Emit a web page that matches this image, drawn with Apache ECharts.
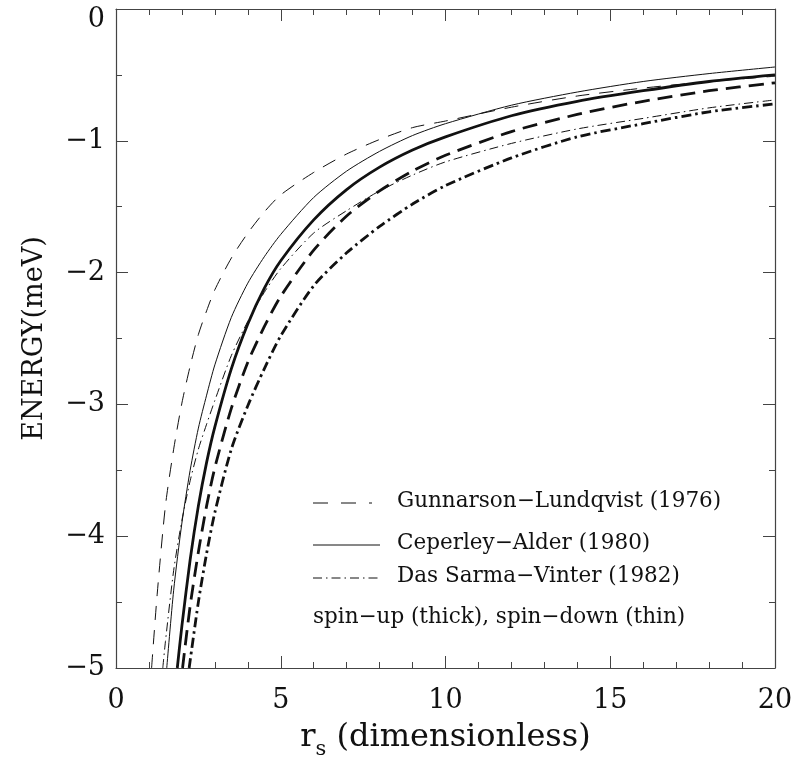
<!DOCTYPE html>
<html><head><meta charset="utf-8">
<script src="https://cdn.jsdelivr.net/npm/echarts@6/dist/echarts.min.js"></script>
<style>html,body{margin:0;padding:0;background:#fff}#c{width:797px;height:760px}</style>
</head><body><div id="c"></div>
<script>
// Gunnarson-Lundqvist (1976)
const rGLup = [2.02, 2.25, 2.5, 2.75, 3, 3.5, 4, 4.5, 5, 6, 7, 8, 9, 10, 12, 14, 16, 18, 20];
const eGLup = [-5.0, -4.53, -4.12, -3.77, -3.48, -3.03, -2.68, -2.41, -2.18, -1.83, -1.57, -1.38, -1.23, -1.11, -0.93, -0.80, -0.70, -0.62, -0.56];
const rGLdn = [1.08, 1.25, 1.5, 1.75, 2, 2.25, 2.5, 2.75, 3, 3.5, 4, 4.5, 5, 6, 7, 8, 9, 10, 12, 14, 16, 18, 20];
const eGLdn = [-5.0, -4.44, -3.77, -3.34, -2.99, -2.71, -2.47, -2.29, -2.13, -1.89, -1.70, -1.54, -1.41, -1.24, -1.10, -0.99, -0.90, -0.85, -0.745, -0.66, -0.60, -0.55, -0.51];
// Ceperley-Alder (1980)
const rCAup = [1.86, 2, 2.25, 2.5, 2.75, 3, 3.5, 4, 4.5, 5, 6, 7, 8, 9, 10, 12, 14, 16, 18, 20];
const eCAup = [-5.0, -4.68, -4.18, -3.77, -3.44, -3.17, -2.73, -2.39, -2.12, -1.91, -1.60, -1.37, -1.20, -1.07, -0.97, -0.81, -0.70, -0.62, -0.55, -0.50];
const rCAdn = [1.54, 1.75, 2, 2.25, 2.5, 2.75, 3, 3.5, 4, 4.5, 5, 6, 7, 8, 9, 10, 12, 14, 16, 18, 20];
const eCAdn = [-5.0, -4.41, -3.90, -3.50, -3.18, -2.93, -2.70, -2.34, -2.08, -1.88, -1.71, -1.43, -1.23, -1.08, -0.96, -0.87, -0.73, -0.63, -0.55, -0.49, -0.44];
// Das Sarma-Vinter (1982)
const rDSup = [2.22, 2.5, 2.75, 3, 3.5, 4, 4.5, 5, 6, 7, 8, 9, 10, 12, 14, 16, 18, 20];
const eDSup = [-5.0, -4.50, -4.13, -3.82, -3.34, -3.01, -2.73, -2.48, -2.10, -1.85, -1.65, -1.48, -1.34, -1.13, -0.97, -0.87, -0.78, -0.72];
const rDSdn = [1.42, 1.5, 1.75, 2, 2.25, 2.5, 2.75, 3, 3.5, 4, 4.5, 5, 6, 7, 8, 9, 10, 12, 14, 16, 18, 20];
const eDSdn = [-5.0, -4.80, -4.26, -3.88, -3.58, -3.34, -3.15, -2.97, -2.63, -2.37, -2.15, -1.97, -1.70, -1.53, -1.38, -1.26, -1.16, -1.02, -0.91, -0.83, -0.75, -0.69];

const legendLabels = ['Gunnarson\u2212Lundqvist (1976)', 'Ceperley\u2212Alder (1980)', 'Das Sarma\u2212Vinter (1982)'];
const noteLabel = 'spin\u2212up (thick), spin\u2212down (thin)';
const xTitle = ' (dimensionless)';
const yTitle = 'ENERGY(meV)';

const FONT = 'DejaVu Serif';
const INK = '#111';
const AX = '#444';
const DASH = [15, 8];
const DASH_THIN = [14, 10];
const DOTDASH = [10, 4, 2.5, 4];
const DOTDASH_THIN = [9, 4, 1.5, 4];

const zip = (a, b) => a.map((v, i) => [v, b[i]]);
const fmtY = v => v < 0 ? '\u2212' + Math.abs(v) : (v === 0 ? '{top|0}' : String(v));

function mkSeries(name, r, e, width, type) {
  return {
    name, type: 'line', data: zip(r, e), showSymbol: false, symbol: 'none',
    smooth: 0.25, clip: true,
    lineStyle: { color: INK, width, type }
  };
}

const axCommon = {
  axisLine: { show: true, onZero: false, lineStyle: { color: AX, width: 1.2 } },
  axisTick: { show: true, inside: true, length: 12, lineStyle: { color: AX, width: 1 } },
  splitLine: { show: false }
};

const chart = echarts.init(document.getElementById('c'), null, { renderer: 'canvas' });
chart.setOption({
  animation: false,
  backgroundColor: '#fff',
  grid: { left: 116, right: 22, top: 9, bottom: 92, containLabel: false, outerBoundsMode: 'none' },
  xAxis: [
    Object.assign({
      type: 'value', min: 0, max: 20, interval: 5, position: 'bottom',
      minorTick: { show: true, splitNumber: 5, length: 6, lineStyle: { color: AX } },
      axisLabel: { color: INK, fontFamily: FONT, fontSize: 27, margin: 19 },
      name: '{r|r}{s|s}{t|' + xTitle + '}', nameLocation: 'middle', nameGap: 48,
      nameTextStyle: {
        color: INK, fontFamily: FONT,
        rich: {
          r: { fontFamily: FONT, fontSize: 32, color: INK, lineHeight: 44 },
          s: { fontFamily: FONT, fontSize: 21, color: INK, lineHeight: 21, verticalAlign: 'bottom' },
          t: { fontFamily: FONT, fontSize: 32, color: INK, lineHeight: 44 }
        }
      }
    }, axCommon),
    Object.assign({
      type: 'value', min: 0, max: 20, interval: 5, position: 'top',
      minorTick: { show: true, splitNumber: 5, length: 6, lineStyle: { color: AX } },
      axisLabel: { show: false }
    }, axCommon)
  ],
  yAxis: [
    Object.assign({
      type: 'value', min: -5, max: 0, interval: 1, position: 'left',
      minorTick: { show: true, splitNumber: 2, length: 6, lineStyle: { color: AX } },
      axisLabel: {
        color: INK, fontFamily: FONT, fontSize: 27, margin: 11, formatter: fmtY,
        rich: { top: { fontFamily: FONT, fontSize: 27, color: INK, padding: [22, 0, 0, 0] } }
      },
      name: yTitle, nameLocation: 'middle', nameGap: 68, nameRotate: 90,
      nameTextStyle: { color: INK, fontFamily: FONT, fontSize: 27 }
    }, axCommon),
    Object.assign({
      type: 'value', min: -5, max: 0, interval: 1, position: 'right',
      minorTick: { show: true, splitNumber: 2, length: 6, lineStyle: { color: AX } },
      axisLabel: { show: false }
    }, axCommon)
  ],
  series: [
    mkSeries('GL spin-down', rGLdn, eGLdn, 1, DASH_THIN),
    mkSeries('CA spin-down', rCAdn, eCAdn, 1, 'solid'),
    mkSeries('DSV spin-down', rDSdn, eDSdn, 1, DOTDASH_THIN),
    mkSeries('GL spin-up', rGLup, eGLup, 2.8, DASH),
    mkSeries('CA spin-up', rCAup, eCAup, 2.8, 'solid'),
    mkSeries('DSV spin-up', rDSup, eDSup, 2.8, DOTDASH)
  ],
  graphic: [
    { type: 'line', shape: { x1: 313, y1: 503, x2: 372, y2: 503 }, style: { stroke: INK, lineWidth: 1, lineDash: [15, 13] } },
    { type: 'line', shape: { x1: 313, y1: 545, x2: 380, y2: 545 }, style: { stroke: INK, lineWidth: 1 } },
    { type: 'line', shape: { x1: 313, y1: 578, x2: 380, y2: 578 }, style: { stroke: INK, lineWidth: 1, lineDash: DOTDASH_THIN } },
    { type: 'text', left: 397, top: 490, style: { text: legendLabels[0], fill: INK, font: '21.5px "DejaVu Serif"' } },
    { type: 'text', left: 397, top: 532, style: { text: legendLabels[1], fill: INK, font: '21.5px "DejaVu Serif"' } },
    { type: 'text', left: 397, top: 565, style: { text: legendLabels[2], fill: INK, font: '21.5px "DejaVu Serif"' } },
    { type: 'text', left: 313, top: 606, style: { text: noteLabel, fill: INK, font: '21.5px "DejaVu Serif"' } }
  ]
});
</script></body></html>
